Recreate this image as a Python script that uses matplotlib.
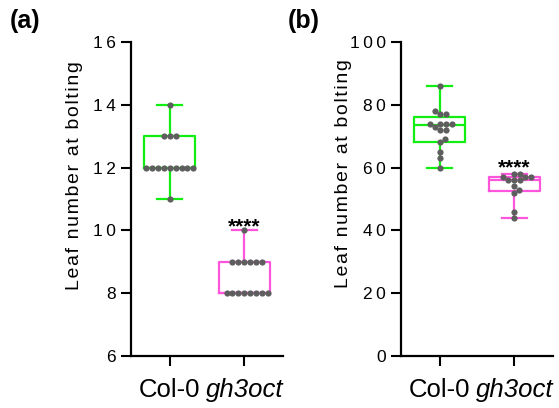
import numpy as np
import matplotlib
matplotlib.use("Agg")
import matplotlib.pyplot as plt
from matplotlib.ticker import FuncFormatter

plt.rcParams['font.family'] = ['Liberation Sans', 'DejaVu Sans']

# ---- data -------------------------------------------------------------
groups = ["Col-0", "gh3oct"]
leaf_a_col0 = [14, 13, 13, 13, 12, 12, 12, 12, 12, 12, 12, 12, 12, 11]
leaf_a_gh3oct = [10, 9, 9, 9, 9, 9, 9, 8, 8, 8, 8, 8, 8, 8, 8]
leaf_b_col0 = [86, 78, 77, 77, 74, 74, 74, 74, 73, 72, 72, 69, 68, 65, 63, 60]
leaf_b_gh3oct = [58, 58, 57, 57, 57, 56, 56, 56, 54, 53, 52, 46, 44]
yticks_a = [6, 8, 10, 12, 14, 16]
yticks_b = [0, 20, 40, 60, 80, 100]
significance = "****"
ylabel = "Leaf number at bolting"
panel_labels = ["(a)", "(b)"]

box_colors = ["#11ee11", "#ff55dd"]
dot_color = "#5e5e5e"
THIN = "\u2009"
HAIR = "\u200a"


def box_stats(vals):
    v = np.asarray(vals, float)
    q1, med, q3 = np.percentile(v, [25, 50, 75], method="weibull")
    return dict(med=med, q1=q1, q3=q3, whislo=v.min(), whishi=v.max(), fliers=[])


def swarm_x(ax, x0, vals, diam):
    """Beeswarm x positions (data units) for values stacked at x0."""
    vals = np.asarray(vals, float)
    pts = ax.transData.transform(np.column_stack([np.full(len(vals), x0), vals]))
    order = np.argsort(pts[:, 1], kind="stable")
    placed = []
    offs = np.zeros(len(vals))
    for i in order:
        y = pts[i, 1]
        cands = [0.0]
        for px, py in placed:
            dy = y - py
            if abs(dy) < diam:
                dx = np.sqrt(diam ** 2 - dy ** 2)
                cands += [px + dx, px - dx]
        cands.sort(key=abs)
        for c in cands:
            if all((c - px) ** 2 + (y - py) ** 2 >= diam ** 2 - 1e-6 for px, py in placed):
                break
        placed.append((c, y))
        offs[i] = c
    disp = np.column_stack([pts[:, 0] + offs, pts[:, 1]])
    return ax.transData.inverted().transform(disp)[:, 0]


fig = plt.figure(figsize=(5.59, 4.08), dpi=100)
W, H = 559, 408
ax_a = fig.add_axes([131 / W, (H - 356) / H, 152 / W, 314 / H])
ax_b = fig.add_axes([401 / W, (H - 356) / H, 152 / W, 314 / H])

panels = [
    (ax_a, [leaf_a_col0, leaf_a_gh3oct], yticks_a, 9.93, 0.575, -0.315),
    (ax_b, [leaf_b_col0, leaf_b_gh3oct], yticks_b, 58.3, 0.58, -0.32),
]

for ax, data, yticks, star_y, lab_y, lab_x in panels:
    ax.set_xlim(-0.52, 1.52)
    ax.set_ylim(yticks[0], yticks[-1])
    for i, (vals, col) in enumerate(zip(data, box_colors)):
        lp = dict(color=col, linewidth=1.6)
        ax.bxp([box_stats(vals)], positions=[i], widths=0.69, capwidths=0.34,
               showfliers=False, boxprops=lp, whiskerprops=lp, capprops=lp,
               medianprops=lp, manage_ticks=False)
    for i, vals in enumerate(data):
        xs = swarm_x(ax, i, vals, 5.9)
        ax.scatter(xs, vals, s=20, color=dot_color, zorder=5, linewidths=0,
                   clip_on=False)
    ax.text(1, star_y, significance, ha="center", va="baseline",
            fontsize=15, fontweight="bold", color="black")

    ax.set_yticks(yticks)
    ax.yaxis.set_major_formatter(FuncFormatter(lambda v, p: THIN.join(str(int(v)))))
    ax.set_xticks([0, 1])
    ax.set_xticklabels(groups, fontsize=18.5)
    ax.get_xticklabels()[1].set_fontstyle("italic")
    ax.tick_params(axis="y", labelsize=12.5, length=7, width=1.5, pad=4)
    ax.tick_params(axis="x", length=7, width=1.5, pad=9)
    for side in ("top", "right"):
        ax.spines[side].set_visible(False)
    for side in ("left", "bottom"):
        ax.spines[side].set_linewidth(1.6)
    ax.set_ylabel(HAIR.join(ylabel), fontsize=14)
    ax.yaxis.set_label_coords(lab_x, lab_y)

fig.text(10 / W, 1 - 21 / H, panel_labels[0], fontsize=18, fontweight="bold",
         ha="left", va="center")
fig.text(288 / W, 1 - 21 / H, panel_labels[1], fontsize=18, fontweight="bold",
         ha="left", va="center")

fig.savefig("out.png", dpi=100)
